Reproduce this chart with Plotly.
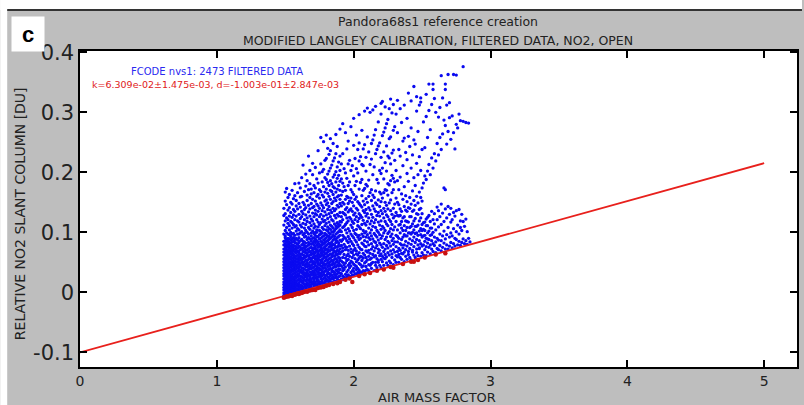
import plotly.graph_objects as go

# ---------------- data ----------------
# blue points: AMF columns and relative NO2 slant columns in milli-DU
blue_amf = [1.49, 1.50, 1.51, 1.52, 1.53, 1.54, 1.55, 1.56, 1.57, 1.58, 1.59,
            1.60, 1.61, 1.62, 1.63, 1.64, 1.65, 1.66, 1.67, 1.68, 1.69, 1.70,
            1.71, 1.72, 1.73, 1.74, 1.75, 1.76, 1.77, 1.78, 1.79, 1.80,
            1.81, 1.82, 1.83, 1.84, 1.85, 1.86, 1.87, 1.88, 1.89, 1.90,
            1.91, 1.92, 1.93, 1.94, 1.95, 1.96, 1.97, 1.98, 1.99, 2.00,
            2.01, 2.02, 2.03, 2.04, 2.05, 2.06, 2.07, 2.08, 2.09, 2.10,
            2.11, 2.12, 2.13, 2.14, 2.15, 2.16, 2.17, 2.18, 2.19, 2.20,
            2.21, 2.22, 2.23, 2.24, 2.25, 2.26, 2.27, 2.28, 2.29, 2.30,
            2.31, 2.32, 2.33, 2.34, 2.35, 2.36, 2.37, 2.38, 2.39, 2.40,
            2.41, 2.42, 2.43, 2.44, 2.45, 2.46, 2.47, 2.48, 2.49, 2.50,
            2.51, 2.52, 2.53, 2.54, 2.55, 2.56, 2.57, 2.58, 2.59, 2.60,
            2.61, 2.62, 2.63, 2.64, 2.65, 2.66, 2.67, 2.68, 2.69, 2.70,
            2.71, 2.72, 2.73, 2.74, 2.75, 2.76, 2.77, 2.78, 2.79, 2.80,
            2.81, 2.82, 2.83, 2.84, 2.85]

blue_mdu = [
    # 1.49 - 1.59
    [-9, -5, -1, 4, 8, 13, 17, 22, 27, 31, 36, 41, 46, 51, 56, 62, 67, 72, 79, 85, 97, 112, 128, 140],
    [-7, -4, 0, 3, 7, 11, 14, 18, 22, 26, 29, 33, 37, 40, 44, 48, 53, 57, 61, 64, 68, 73, 77, 81, 86, 91, 94, 103, 119, 131, 152, 167],
    [-6, -2, 2, 6, 9, 13, 17, 20, 24, 28, 31, 35, 39, 43, 46, 50, 55, 59, 62, 66, 70, 75, 79, 84, 88, 99, 108, 124, 146, 173],
    [-5, -1, 4, 8, 12, 15, 19, 23, 27, 32, 36, 41, 45, 49, 54, 58, 63, 67, 71, 76, 80, 85, 90, 97, 115, 121, 137, 158],
    [-6, -3, 1, 5, 10, 14, 18, 21, 25, 30, 34, 38, 42, 47, 51, 56, 60, 65, 69, 74, 78, 83, 89, 96, 104, 111, 127, 141, 163],
    [-5, 0, 3, 7, 11, 16, 20, 24, 28, 33, 37, 42, 46, 50, 55, 59, 64, 68, 72, 77, 82, 87, 93, 100, 118, 133, 150],
    [-4, -1, 3, 6, 10, 13, 17, 22, 26, 29, 35, 39, 44, 48, 52, 57, 62, 66, 70, 75, 79, 84, 89, 97, 107, 116, 125, 147, 170],
    [-4, 1, 5, 9, 12, 16, 21, 25, 31, 36, 40, 45, 49, 53, 58, 63, 69, 73, 78, 85, 91, 98, 113, 129, 138, 156],
    [-3, 0, 4, 8, 13, 18, 23, 27, 32, 37, 43, 47, 52, 57, 61, 67, 72, 77, 83, 88, 95, 109, 121, 135, 161, 181],
    [-3, 2, 6, 11, 15, 19, 24, 29, 34, 39, 44, 50, 55, 60, 66, 71, 76, 82, 90, 102, 111, 127, 144, 153],
    [-2, 1, 5, 10, 14, 20, 26, 30, 35, 41, 46, 51, 56, 62, 68, 74, 80, 87, 97, 106, 119, 139, 166],
    # 1.60 - 1.70
    [-2, 3, 7, 13, 16, 22, 28, 31, 38, 42, 49, 53, 58, 66, 69, 77, 83, 91, 97, 104, 117, 130, 148, 182],
    [-1, 4, 9, 12, 19, 23, 27, 34, 37, 44, 47, 55, 60, 63, 71, 75, 86, 99, 112, 123, 142, 159, 174],
    [0, 2, 6, 11, 17, 20, 26, 33, 36, 41, 50, 52, 57, 64, 72, 79, 88, 101, 109, 126, 135, 160, 191],
    [0, 5, 8, 15, 18, 24, 30, 35, 40, 46, 48, 56, 62, 68, 74, 81, 85, 96, 115, 131, 150, 212],
    [1, 3, 10, 14, 21, 25, 29, 32, 39, 45, 51, 58, 61, 67, 73, 78, 84, 92, 98, 107, 121, 138, 146, 168],
    [1, 6, 9, 13, 19, 27, 31, 37, 43, 47, 54, 59, 66, 70, 76, 82, 93, 103, 113, 129, 141, 177, 197],
    [2, 4, 11, 16, 22, 26, 33, 36, 42, 49, 53, 61, 64, 71, 77, 88, 100, 118, 124, 153, 162, 186],
    [2, 7, 12, 14, 20, 28, 30, 38, 44, 46, 55, 60, 67, 72, 79, 83, 91, 97, 108, 134, 145, 171, 227],
    [3, 6, 10, 17, 23, 26, 34, 40, 43, 50, 57, 62, 68, 74, 81, 89, 105, 116, 127, 139, 158, 181, 203],
    [3, 8, 13, 18, 21, 29, 32, 39, 45, 52, 55, 63, 66, 75, 80, 86, 94, 99, 111, 122, 148, 164, 172],
    [4, 7, 14, 16, 24, 30, 35, 41, 47, 51, 58, 64, 70, 73, 82, 90, 102, 119, 132, 141, 155, 196, 215],
    # 1.71 - 1.80
    [7, 11, 18, 22, 27, 33, 36, 42, 48, 51, 58, 63, 67, 74, 79, 85, 91, 98, 107, 114, 126, 143, 166, 178],
    [8, 13, 16, 24, 29, 31, 38, 45, 49, 55, 60, 66, 72, 76, 83, 88, 95, 100, 110, 131, 137, 152, 174, 208],
    [9, 12, 19, 23, 26, 35, 39, 43, 52, 56, 61, 69, 71, 79, 86, 92, 100, 104, 121, 129, 147, 160, 189],
    [9, 15, 20, 25, 30, 34, 41, 47, 50, 57, 64, 68, 75, 81, 84, 93, 109, 117, 135, 144, 163, 182, 236],
    [10, 14, 17, 27, 32, 37, 40, 46, 54, 59, 62, 70, 77, 80, 89, 96, 103, 113, 126, 140, 157, 171, 199],
    [11, 16, 22, 26, 31, 38, 44, 49, 53, 60, 66, 72, 76, 85, 90, 97, 101, 116, 130, 149, 168, 214, 258],
    [11, 17, 21, 28, 34, 36, 43, 51, 55, 63, 68, 71, 79, 83, 92, 99, 108, 122, 136, 145, 162, 184, 201],
    [12, 15, 23, 30, 33, 40, 46, 48, 57, 61, 67, 74, 81, 87, 94, 105, 118, 127, 141, 159, 176, 205, 251],
    [13, 18, 24, 27, 35, 41, 45, 52, 59, 64, 70, 76, 83, 89, 98, 111, 120, 134, 152, 167, 191, 220],
    [14, 19, 22, 29, 37, 39, 47, 54, 58, 65, 72, 78, 85, 91, 96, 104, 115, 129, 146, 154, 172, 188, 223, 262],
    # 1.81 - 1.90
    [14, 20, 26, 31, 34, 43, 49, 53, 61, 67, 71, 80, 86, 94, 102, 109, 123, 138, 149, 165, 183, 197, 240],
    [15, 18, 24, 32, 38, 44, 48, 56, 62, 69, 75, 82, 88, 93, 99, 106, 117, 131, 143, 160, 178, 202, 230],
    [16, 21, 27, 30, 40, 45, 51, 57, 64, 70, 77, 81, 90, 97, 105, 112, 126, 137, 155, 170, 186, 207, 236, 256],
    [16, 23, 29, 34, 37, 46, 53, 59, 63, 73, 78, 84, 92, 101, 110, 121, 133, 148, 168, 181, 212],
    [17, 22, 26, 35, 41, 48, 52, 61, 66, 71, 80, 87, 95, 100, 107, 119, 140, 151, 163, 176, 192, 219, 248],
    [18, 24, 30, 33, 43, 47, 55, 60, 68, 74, 79, 89, 93, 103, 114, 128, 136, 157, 174, 196, 224],
    [18, 25, 28, 37, 42, 50, 56, 63, 67, 76, 83, 88, 97, 106, 111, 124, 139, 153, 167, 184, 201, 231, 263],
    [19, 23, 31, 36, 45, 51, 54, 62, 70, 75, 85, 91, 99, 108, 116, 130, 145, 159, 172, 190, 209, 243],
    [20, 26, 33, 39, 44, 49, 58, 65, 69, 78, 82, 93, 101, 110, 113, 127, 142, 161, 178, 195, 217],
    [20, 27, 32, 38, 46, 53, 57, 64, 72, 77, 87, 95, 104, 112, 118, 133, 148, 155, 170, 185, 203, 227, 272],
    # 1.91 - 2.10
    [22, 31, 44, 52, 67, 78, 85, 101, 117, 126, 144, 162, 189, 214],
    [21, 27, 36, 41, 50, 58, 69, 74, 88, 95, 108, 121, 133, 150, 168, 182, 231, 281],
    [25, 38, 46, 63, 80, 92, 110, 131, 147, 176, 206],
    [23, 30, 42, 49, 57, 71, 76, 90, 104, 113, 129, 138, 155, 170, 199, 266],
    [26, 34, 53, 61, 75, 86, 99, 116, 124, 141, 160, 190, 239],
    [24, 29, 37, 45, 55, 64, 70, 83, 93, 106, 119, 134, 148, 158, 178, 214, 252],
    [27, 41, 48, 60, 77, 89, 102, 125, 137, 152, 184, 220],
    [26, 33, 44, 52, 67, 72, 85, 97, 112, 122, 139, 157, 171, 203, 276],
    [29, 36, 50, 58, 66, 81, 94, 108, 118, 135, 150, 167, 211],
    [28, 35, 40, 47, 62, 70, 78, 91, 103, 115, 129, 144, 163, 194, 245, 290],
    [31, 45, 56, 73, 87, 98, 121, 132, 155, 178, 223],
    [30, 38, 43, 51, 64, 69, 84, 96, 105, 126, 140, 159, 185, 206, 262],
    [33, 40, 54, 62, 79, 92, 111, 118, 137, 151, 199, 238],
    [32, 37, 48, 57, 66, 75, 88, 95, 109, 123, 131, 148, 172, 219, 249, 296],
    [34, 46, 60, 72, 90, 106, 128, 145, 183, 226],
    [33, 42, 53, 59, 71, 82, 97, 113, 125, 142, 161, 188, 213, 270],
    [36, 44, 57, 65, 80, 93, 103, 120, 136, 152, 170, 211, 239],
    [35, 49, 62, 77, 86, 99, 115, 133, 146, 173, 246, 302],
    [37, 43, 51, 58, 69, 76, 92, 101, 112, 127, 138, 156, 180, 202, 225],
    [38, 54, 67, 84, 96, 118, 131, 150, 177, 259, 307],
    # 2.11 - 2.30
    [36, 46, 60, 70, 79, 91, 107, 124, 141, 160, 187, 234],
    [45, 55, 65, 88, 99, 114, 137, 166, 213, 300],
    [40, 48, 57, 72, 81, 94, 104, 119, 130, 153, 171, 222, 248],
    [50, 63, 76, 89, 110, 125, 144, 162, 196, 254, 304],
    [36, 59, 69, 85, 98, 116, 139, 158, 209, 262],
    [45, 50, 61, 74, 83, 95, 108, 121, 135, 149, 169, 231, 271, 310],
    [41, 56, 78, 92, 103, 128, 146, 188, 238],
    [50, 53, 66, 72, 87, 100, 117, 133, 154, 182, 244, 284],
    [45, 61, 70, 82, 96, 112, 127, 143, 167, 203, 249],
    [41, 55, 64, 79, 90, 105, 119, 136, 151, 164, 198, 225, 297, 315],
    [51, 60, 75, 94, 110, 131, 157, 207, 261, 318],
    [45, 57, 68, 81, 99, 107, 124, 140, 166, 189, 234, 267],
    [56, 63, 72, 88, 103, 118, 135, 150, 171, 216, 274, 309],
    [49, 59, 78, 92, 114, 129, 145, 170, 202, 244, 281],
    [45, 66, 74, 85, 98, 111, 126, 139, 162, 181, 227, 288],
    [52, 62, 82, 101, 121, 149, 179, 224, 256, 306],
    [49, 69, 77, 93, 106, 118, 136, 154, 186, 214, 259, 322],
    [58, 64, 86, 97, 113, 130, 166, 195, 232, 299],
    [46, 71, 80, 90, 104, 124, 140, 171, 190, 237, 270, 313],
    [54, 67, 84, 109, 127, 147, 184, 220, 276],
    # 2.31 - 2.50
    [50, 61, 76, 95, 118, 133, 157, 203, 297],
    [59, 68, 84, 93, 104, 128, 150, 186, 266, 320],
    [50, 63, 73, 90, 112, 127, 146, 171, 238],
    [58, 70, 81, 99, 113, 128, 139, 192, 227, 306],
    [55, 65, 79, 88, 107, 118, 135, 164, 283],
    [64, 74, 92, 103, 124, 155, 211, 252],
    [51, 67, 79, 96, 111, 126, 143, 176, 257, 312],
    [60, 71, 85, 94, 103, 119, 137, 161, 233],
    [55, 77, 94, 108, 118, 135, 151, 198, 221, 290],
    [63, 68, 82, 99, 117, 141, 185, 260, 332],
    [58, 73, 89, 99, 108, 126, 140, 158, 243],
    [54, 80, 97, 110, 126, 147, 207, 274, 319],
    [67, 70, 86, 100, 114, 135, 169, 229],
    [62, 76, 92, 104, 119, 137, 153, 191, 254, 343],
    [58, 83, 98, 110, 123, 145, 178, 247],
    [66, 72, 88, 99, 110, 131, 160, 215, 302, 326],
    [61, 79, 95, 112, 130, 149, 196, 268],
    [73, 74, 86, 102, 119, 138, 167, 226, 312],
    [60, 81, 96, 106, 124, 140, 158, 203, 317, 324],
    [66, 77, 92, 103, 113, 131, 152, 174, 238],
    # 2.51 - 2.70
    [62, 79, 94, 105, 116, 182, 284],
    [71, 85, 95, 103, 117, 194, 241],
    [61, 76, 90, 111, 122, 188, 293, 330],
    [67, 82, 89, 99, 111, 125, 202, 258],
    [75, 88, 102, 128, 213, 303, 347],
    [64, 79, 95, 107, 118, 196, 271],
    [72, 86, 96, 107, 135, 224, 313],
    [68, 81, 100, 121, 207, 338, 347],
    [78, 92, 114, 131, 231, 323],
    [66, 84, 104, 219, 300],
    [73, 90, 121, 142, 248],
    [71, 87, 109, 136, 229, 292],
    [78, 97, 126, 258, 308],
    [69, 86, 113, 147, 238, 361],
    [75, 94, 132, 264, 324],
    [82, 102, 118, 174, 287],
    [72, 89, 139, 171, 278, 338, 347],
    [79, 96, 124, 247, 312],
    [72, 108, 143, 268, 363],
    [77, 92, 130, 291, 316],
    # 2.71 - 2.85
    [83, 99, 117, 140, 255],
    [74, 94, 121, 294],
    [81, 106, 133, 266, 363],
    [77, 90, 127, 239],
    [88, 101, 136, 280, 362],
    [79, 112, 274],
    [85, 97, 138, 297],
    [78, 108, 119, 286],
    [83, 103, 130],
    [89, 118, 285, 376],
    [81, 110],
    [86, 122, 283],
    [80, 101],
    [90, 282],
    [84],
]

# red points (lowest values, on the fit line)
red_amf = [1.49, 1.50, 1.51, 1.52, 1.53, 1.54, 1.55, 1.56, 1.57, 1.58, 1.59, 1.60,
           1.61, 1.62, 1.63, 1.64, 1.66, 1.68, 1.70, 1.72, 1.74, 1.76, 1.78, 1.80,
           1.82, 1.85, 1.88, 1.90, 1.94, 1.97, 1.99, 2.04, 2.08, 2.12, 2.17, 2.22,
           2.27, 2.29, 2.36, 2.42, 2.44, 2.47, 2.52, 2.60, 2.67]
red_scd = [-0.009, -0.008, -0.007, -0.007, -0.006, -0.005, -0.006, -0.004, -0.004,
           -0.003, -0.002, -0.003, -0.001, -0.001, 0.000, 0.001, 0.001, 0.003, 0.004,
           0.004, 0.007, 0.008, 0.009, 0.011, 0.012, 0.014, 0.015, 0.017, 0.021,
           0.023, 0.017, 0.027, 0.030, 0.032, 0.036, 0.038, 0.042, 0.041, 0.047,
           0.051, 0.051, 0.054, 0.058, 0.063, 0.065]

# fit line (k=6.309e-02, d=-1.003e-01)
fit_amf = [0, 5]
fit_scd = [-0.1003, 0.2152]

x_ticks = [0, 1, 2, 3, 4, 5]
y_ticks = [-0.1, 0, 0.1, 0.2, 0.3, 0.4]
y_tick_text = ["-0.1", "0", "0.1", "0.2", "0.3", "0.4"]

assert len(blue_amf) == len(blue_mdu), (len(blue_amf), len(blue_mdu))
bx, by = [], []
for a, col in zip(blue_amf, blue_mdu):
    for v in col:
        bx.append(a)
        by.append(v / 1000.0)

# ---------------- layout geometry ----------------
WIDTH, HEIGHT = 804, 405
L, R, T, B = 80, 5, 51, 38
PW, PH = WIDTH - L - R, HEIGHT - T - B


def px(x):
    return (x - L) / PW


def py(y):
    return (HEIGHT - B - y) / PH


FONT = "DejaVu Sans"
GRAY = "#bebebe"

fig = go.Figure()
fig.add_trace(go.Scatter(x=bx, y=by, mode="markers",
                         marker=dict(color="#0a0af0", size=3.3, line=dict(width=0)),
                         hoverinfo="skip", showlegend=False))
fig.add_trace(go.Scatter(x=fit_amf, y=fit_scd, mode="lines",
                         line=dict(color="#e8201c", width=1.8),
                         hoverinfo="skip", showlegend=False))
fig.add_trace(go.Scatter(x=red_amf, y=red_scd, mode="markers",
                         marker=dict(color="#c81010", size=4.5, line=dict(width=0)),
                         hoverinfo="skip", showlegend=False))

axis_common = dict(showgrid=False, zeroline=False, showline=True, linecolor="black",
                   linewidth=1.5, mirror="ticks", ticks="inside", ticklen=7,
                   tickcolor="black", tickwidth=1.5)

fig.update_xaxes(range=[0, 5.24], tickvals=x_ticks,
                 tickfont=dict(family=FONT, size=14, color="#222"), **axis_common)
fig.update_yaxes(range=[-0.1245, 0.4022], tickvals=y_ticks, ticktext=y_tick_text,
                 tickfont=dict(family=FONT, size=21, color="#222"), **axis_common)

shapes = [
    dict(type="rect", xref="paper", yref="paper", x0=px(0), x1=px(WIDTH),
         y0=py(10), y1=py(0), fillcolor="white", line=dict(width=0), layer="below"),
    dict(type="rect", xref="paper", yref="paper", x0=px(0), x1=px(7),
         y0=py(HEIGHT), y1=py(0), fillcolor="white", line=dict(width=0), layer="below"),
    dict(type="line", xref="paper", yref="paper", x0=px(7), x1=px(WIDTH),
         y0=py(10), y1=py(10), line=dict(color="#333", width=2)),
]

annotations = [
    dict(text="Pandora68s1 reference creation", x=px(439), y=py(22),
         font=dict(family=FONT, size=12.5, color="#222")),
    dict(text="MODIFIED LANGLEY CALIBRATION, FILTERED DATA, NO2, OPEN", x=px(439), y=py(40),
         font=dict(family=FONT, size=12.5, color="#222")),
    dict(text="FCODE nvs1: 2473 FILTERED DATA", x=px(217), y=py(71),
         font=dict(family=FONT, size=10, color="#2a2af0")),
    dict(text="k=6.309e-02\u00b11.475e-03, d=-1.003e-01\u00b12.847e-03", x=px(216), y=py(84),
         font=dict(family=FONT, size=9.5, color="#e02020")),
    dict(text="RELATIVE NO2 SLANT COLUMN [DU]", x=px(20), y=py(214), textangle=-90,
         font=dict(family=FONT, size=14, color="#222")),
    dict(text="AIR MASS FACTOR", x=px(438), y=py(397),
         font=dict(family=FONT, size=13, color="#222")),
    dict(text="<b>c</b>", x=px(28), y=py(34), width=30, height=32, bgcolor="white",
         font=dict(family="Liberation Sans", size=22, color="black")),
]
for a in annotations:
    a.update(xref="paper", yref="paper", showarrow=False, xanchor="center", yanchor="middle")

fig.update_layout(width=WIDTH, height=HEIGHT, margin=dict(l=L, r=R, t=T, b=B),
                  paper_bgcolor=GRAY, plot_bgcolor="white",
                  shapes=shapes, annotations=annotations, showlegend=False)

fig.write_html("out.html")
